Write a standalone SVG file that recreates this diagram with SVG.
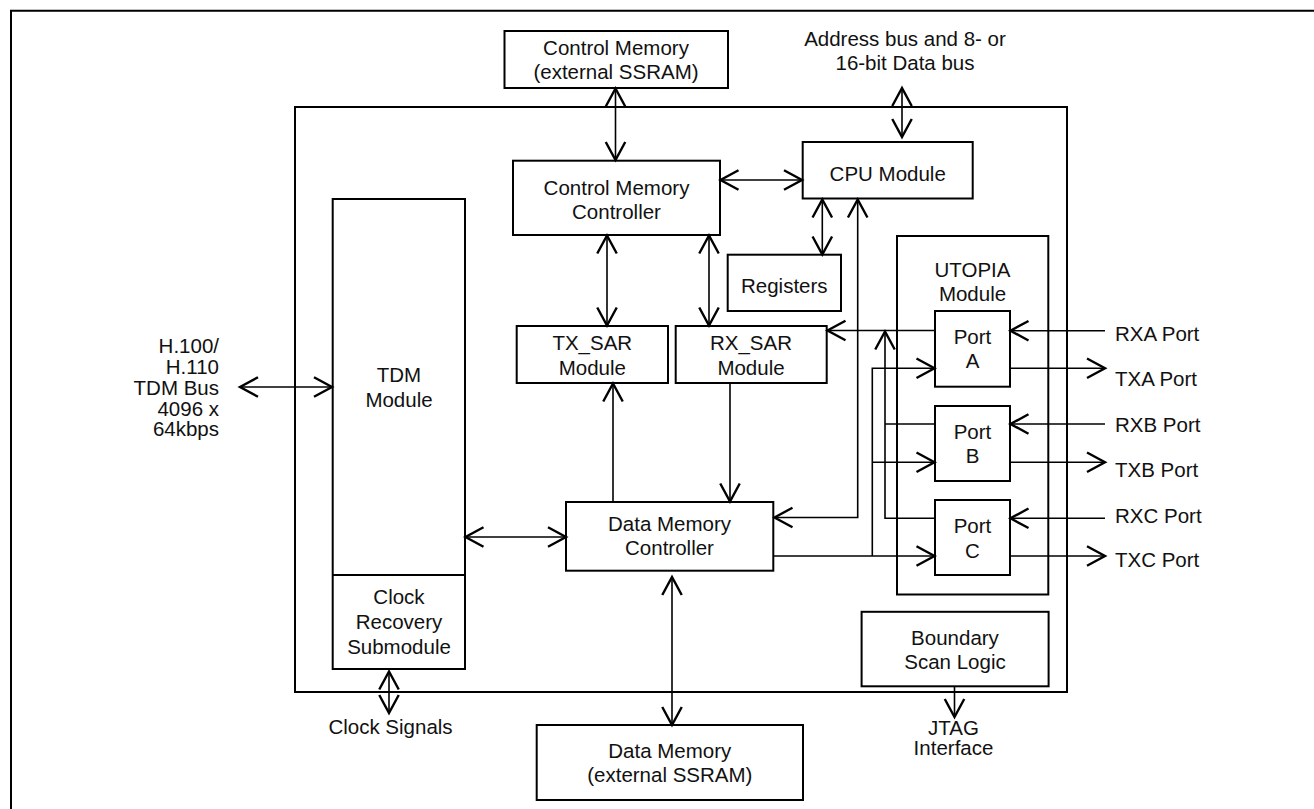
<svg xmlns="http://www.w3.org/2000/svg" width="1314" height="809" viewBox="0 0 1314 809">
<style>
.box{fill:none;stroke:#000;stroke-width:2}
.ln{fill:none;stroke:#000;stroke-width:1.6}
.arr{marker-end:url(#ah)}
.dbl{marker-start:url(#ah);marker-end:url(#ah)}
text{font-family:"Liberation Sans",Arial,Helvetica,sans-serif;font-size:20.5px;fill:#111}
.c{text-anchor:middle}
.e{text-anchor:end}
</style>
<defs>
<marker id="ah" markerUnits="userSpaceOnUse" markerWidth="30" markerHeight="30" viewBox="-15 -10 20 20" refX="0" refY="0" orient="auto-start-reverse" overflow="visible">
<path d="M-12,-6.5 L0,0 L-12,6.5" fill="none" stroke="#000" stroke-width="1.6"/>
</marker>
</defs>
<rect width="1314" height="809" fill="#fff"/>
<g id="frame"><path class="box" d="M11,809 V10.7 H1314"/></g>
<g id="chip"><rect class="box" x="295" y="107" width="772" height="585"/></g>

<g id="control-memory">
<rect class="box" x="504.5" y="31" width="223.5" height="57"/>
<text class="c" x="616" y="55">Control Memory</text>
<text class="c" x="616" y="79">(external SSRAM)</text>
</g>
<g id="address-bus-label">
<text class="c" x="905" y="46">Address bus and 8- or</text>
<text class="c" x="905" y="69.5">16-bit Data bus</text>
</g>
<g id="control-memory-controller">
<rect class="box" x="513" y="160.7" width="207" height="74.3"/>
<text class="c" x="616.5" y="195">Control Memory</text>
<text class="c" x="616.5" y="218.5">Controller</text>
</g>
<g id="cpu-module">
<rect class="box" x="802.7" y="142" width="170" height="56.5"/>
<text class="c" x="887.7" y="181">CPU Module</text>
</g>
<g id="registers">
<rect class="box" x="727.7" y="254.7" width="113.3" height="56.3"/>
<text class="c" x="784.3" y="292.7">Registers</text>
</g>
<g id="tx-sar">
<rect class="box" x="516.7" y="326" width="151.3" height="57"/>
<text class="c" x="592.3" y="350">TX_SAR</text>
<text class="c" x="592.3" y="375">Module</text>
</g>
<g id="rx-sar">
<rect class="box" x="675.7" y="326" width="151" height="57"/>
<text class="c" x="751" y="350">RX_SAR</text>
<text class="c" x="751" y="375">Module</text>
</g>
<g id="tdm-module">
<rect class="box" x="332.7" y="199" width="132.3" height="470"/>
<line class="box" x1="332.7" y1="575" x2="465" y2="575"/>
<text class="c" x="399" y="381.7">TDM</text>
<text class="c" x="399" y="406.7">Module</text>
</g>
<g id="clock-recovery">
<text class="c" x="399" y="604">Clock</text>
<text class="c" x="399" y="629">Recovery</text>
<text class="c" x="399" y="653.5">Submodule</text>
</g>
<g id="h100-label">
<text class="e" x="219" y="353.3">H.100/</text>
<text class="e" x="219" y="374.3">H.110</text>
<text class="e" x="219" y="395">TDM Bus</text>
<text class="e" x="219" y="415.5">4096 x</text>
<text class="e" x="219" y="436">64kbps</text>
</g>
<g id="data-memory-controller">
<rect class="box" x="566" y="502" width="207.3" height="68.7"/>
<text class="c" x="669.5" y="531">Data Memory</text>
<text class="c" x="669.5" y="554.5">Controller</text>
</g>
<g id="data-memory">
<rect class="box" x="536.7" y="725" width="266.3" height="75"/>
<text class="c" x="669.8" y="758.3">Data Memory</text>
<text class="c" x="669.8" y="781.5">(external SSRAM)</text>
</g>
<g id="clock-signals-label"><text class="c" x="390.5" y="734">Clock Signals</text></g>
<g id="utopia-module">
<rect class="box" x="897" y="236" width="151.3" height="358.5"/>
<text class="c" x="972.5" y="277">UTOPIA</text>
<text class="c" x="972.5" y="301">Module</text>
</g>
<g id="port-a">
<rect class="box" x="935" y="311" width="75" height="75.7"/>
<text class="c" x="972.5" y="344">Port</text>
<text class="c" x="972.5" y="368.3">A</text>
</g>
<g id="port-b">
<rect class="box" x="935" y="406" width="75" height="75"/>
<text class="c" x="972.5" y="439.3">Port</text>
<text class="c" x="972.5" y="463.3">B</text>
</g>
<g id="port-c">
<rect class="box" x="935" y="500" width="75" height="75"/>
<text class="c" x="972.5" y="533.3">Port</text>
<text class="c" x="972.5" y="557.7">C</text>
</g>
<g id="port-labels">
<text x="1115" y="340.7">RXA Port</text>
<text x="1115" y="386">TXA Port</text>
<text x="1115" y="431.7">RXB Port</text>
<text x="1115" y="476.7">TXB Port</text>
<text x="1115" y="522.7">RXC Port</text>
<text x="1115" y="567.3">TXC Port</text>
</g>
<g id="boundary-scan">
<rect class="box" x="861.6" y="611.8" width="187" height="74.5"/>
<text class="c" x="955" y="644.8">Boundary</text>
<text class="c" x="955" y="669">Scan Logic</text>
</g>
<g id="jtag-label">
<text class="c" x="953.5" y="734.6">JTAG</text>
<text class="c" x="953.5" y="755.4">Interface</text>
</g>

<g id="connectors">
<path class="ln dbl" d="M615.5,88.5 V160"/>
<path class="ln dbl" d="M902,88 V137"/>
<path class="ln dbl" d="M720.5,180 H802"/>
<path class="ln dbl" d="M822.3,199.5 V254.5"/>
<path class="ln dbl" d="M607,235.5 V325.5"/>
<path class="ln dbl" d="M709,235.5 V325.5"/>
<path class="ln arr" d="M613,502 V383.5"/>
<path class="ln arr" d="M730,383 V501.5"/>
<path class="ln dbl" d="M465.5,537 H566"/>
<path class="ln dbl" d="M240,387 H332"/>
<path class="ln dbl" d="M672,577 V725"/>
<path class="ln dbl" d="M389,671.5 V713"/>
<path class="ln arr" d="M954.5,686.5 V717"/>
<path class="ln dbl" d="M774.5,517.5 H857.7 V199.5"/>
<path class="ln arr" d="M935,330.5 H827.5"/>
<path class="ln" d="M935,424 H885"/>
<path class="ln arr" d="M935,518.3 H885 V331.5"/>
<path class="ln arr" d="M773.5,556 H934.5"/>
<path class="ln arr" d="M872.3,556 V368.3 H934.5"/>
<path class="ln arr" d="M872.3,462.3 H934.5"/>
<path class="ln arr" d="M1105,330.7 H1010.5"/>
<path class="ln arr" d="M1010,368.3 H1105"/>
<path class="ln arr" d="M1105,424 H1010.5"/>
<path class="ln arr" d="M1010,462.3 H1105"/>
<path class="ln arr" d="M1105,518.3 H1010.5"/>
<path class="ln arr" d="M1010,556 H1105"/>
</g>
</svg>
